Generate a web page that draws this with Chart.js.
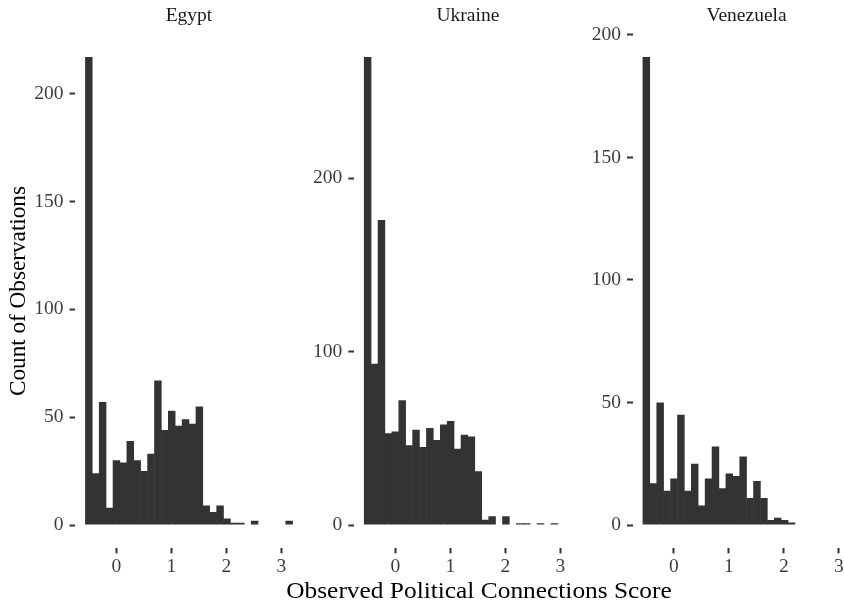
<!DOCTYPE html>
<html>
<head>
<meta charset="utf-8">
<script src="https://cdn.jsdelivr.net/npm/chart.js@4.4.1/dist/chart.umd.min.js"></script>
<style>
  html, body { margin: 0; padding: 0; width: 844px; height: 603px; overflow: hidden; background: #fff; }
  canvas { position: absolute; top: 0; }
  #xtitle {
    position: absolute; left: 179px; width: 600px; top: 578.5px;
    text-align: center; font-family: "Liberation Serif", serif; font-size: 23.5px;
    line-height: 23.5px; color: #000; white-space: nowrap;
    transform: scaleX(1.08); transform-origin: 300px 0;
  }
</style>
</head>
<body>
<canvas id="egypt" width="305" height="603" style="left:0px"></canvas>
<canvas id="ukraine" width="282" height="603" style="left:305px"></canvas>
<canvas id="venezuela" width="283" height="603" style="left:587px"></canvas>
<div id="xtitle">Observed Political Connections Score</div>
<script>
// Histogram bins (centres of 30 equal-width bins of the connections score)
const binCenters = [
  -0.5022, -0.3765, -0.2508, -0.1251, 0.0006, 0.1263, 0.2520, 0.3777, 0.5034, 0.6291,
   0.7548,  0.8805,  1.0062,  1.1319, 1.2576, 1.3833, 1.5090, 1.6347, 1.7604, 1.8861,
   2.0118,  2.1375,  2.2632,  2.3889, 2.5146, 2.6403, 2.7660, 2.8917, 3.0174, 3.1431
];
const binWidth = 0.1257;

// Counts of observations per bin, one series per country
const egyptCounts = [217, 24, 57, 8, 30, 29, 39, 30, 25, 33, 67, 44, 53, 46, 49, 47, 55, 9, 6, 9, 3, 1, 1, 0, 2, 0, 0, 0, 0, 2];
const ukraineCounts = [270, 93, 176, 53, 54, 72, 46, 55, 45, 56, 49, 58, 60, 44, 52, 51, 31, 3, 5, 0, 5, 0, 1, 1, 0, 1, 0, 1, 0, 0];
const venezuelaCounts = [191, 17, 50, 14, 19, 45, 14, 25, 8, 19, 32, 15, 21, 20, 28, 11, 18, 11, 2, 3, 2, 1, 0, 0, 0, 0, 0, 0, 0, 0];

// Tick labels
const xTicks = [0, 1, 2, 3];
const egyptTicks = [0, 50, 100, 150, 200];
const ukraineTicks = [0, 100, 200];
const venezuelaTicks = [0, 50, 100, 150, 200];

const SERIF = "'Liberation Serif', 'Times New Roman', serif";
const BAR = '#333333';
const TICK_TEXT = '#3d3d3d';

// Shared x range: bin extent plus 5% expansion on each side
const xLo = binCenters[0] - binWidth / 2;
const xHi = binCenters[binCenters.length - 1] + binWidth / 2;
const xPad = (xHi - xLo) * 0.05;

const panels = [
  { id: 'egypt', title: 'Egypt', counts: egyptCounts, ticks: egyptTicks, axisWidth: 75, padRight: 2, yTitle: 'Count of Observations' },
  { id: 'ukraine', title: 'Ukraine', counts: ukraineCounts, ticks: ukraineTicks, axisWidth: 48.8, padRight: 5, yTitle: null },
  { id: 'venezuela', title: 'Venezuela', counts: venezuelaCounts, ticks: venezuelaTicks, axisWidth: 45.5, padRight: 9.3, yTitle: null }
];

panels.forEach(p => {
  const yMax = Math.max(...p.counts);
  new Chart(document.getElementById(p.id), {
    type: 'bar',
    data: {
      datasets: [{
        data: binCenters.map((x, i) => ({ x: x, y: p.counts[i] })),
        backgroundColor: BAR,
        borderWidth: 0,
        barPercentage: 1.08,
        categoryPercentage: 1
      }]
    },
    options: {
      responsive: false,
      animation: false,
      events: [],
      layout: { padding: { left: 0, right: p.padRight, top: 0, bottom: 0 } },
      plugins: {
        legend: { display: false },
        tooltip: { enabled: false },
        title: {
          display: true,
          text: p.title,
          fullSize: false,
          color: '#1a1a1a',
          font: { family: SERIF, size: 19.5, weight: 'normal', lineHeight: 1.2 },
          padding: { top: 4.4, bottom: 5.8 }
        }
      },
      scales: {
        x: {
          type: 'linear',
          offset: false,
          min: xLo - xPad,
          max: xHi + xPad,
          afterBuildTicks: s => { s.ticks = xTicks.map(v => ({ value: v })); },
          afterFit: s => { s.height = 54.6; },
          border: { display: false },
          grid: { offset: false, drawOnChartArea: false, drawTicks: true, tickLength: 5, tickWidth: 2, tickColor: '#333333' },
          ticks: {
            autoSkip: false, maxRotation: 0, padding: 2, color: TICK_TEXT,
            font: { family: SERIF, size: 19.5, lineHeight: 1.2 }
          }
        },
        y: {
          type: 'linear',
          min: -yMax * 0.05,
          max: yMax * 1.05,
          afterBuildTicks: s => { s.ticks = p.ticks.map(v => ({ value: v })); },
          afterFit: s => { s.width = p.axisWidth; },
          border: { display: false },
          grid: { drawOnChartArea: false, drawTicks: true, tickLength: 5.5, tickWidth: 2, tickColor: '#333333' },
          ticks: {
            autoSkip: false, padding: 6, color: TICK_TEXT,
            font: { family: SERIF, size: 19.5, lineHeight: 1.2 }
          },
          title: {
            display: !!p.yTitle,
            text: p.yTitle || '',
            color: '#000',
            font: { family: SERIF, size: 23.2, lineHeight: 1.2 },
            padding: { top: 5, bottom: 0 }
          }
        }
      }
    }
  });
});
</script>
</body>
</html>
